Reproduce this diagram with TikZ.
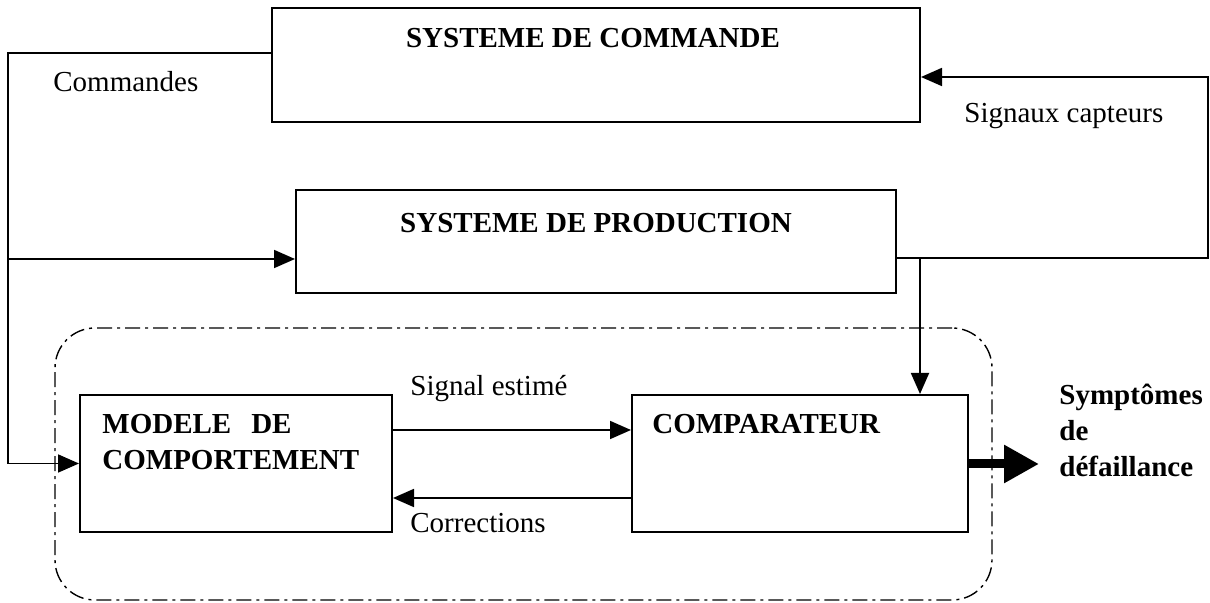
\documentclass[tikz,border=0pt]{standalone}
\usepackage{fontspec}
\setmainfont{Liberation Serif}
\usetikzlibrary{arrows.meta}
\begin{document}
\begin{tikzpicture}[x=0.5pt,y=-0.5pt,
  font=\fontsize{14.5pt}{18pt}\selectfont,
  box/.style={draw,line width=1pt,rectangle,inner sep=0pt},
  frame/.style={draw,line width=0.7pt,rectangle,rounded corners=20pt,
    dash pattern=on 7.5pt off 2.5pt on 1.5pt off 2.5pt},
  conn/.style={line width=0.9pt,-{Triangle[length=10.5pt,width=9pt]}},
  bigarrow/.style={line width=4.5pt,-{Triangle[length=17.5pt,width=18pt]}},
  txt/.style={inner sep=0pt,anchor=base west},
  ttl/.style={inner sep=0pt,anchor=base,font=\fontsize{14.5pt}{18pt}\selectfont\bfseries},
  btxt/.style={inner sep=0pt,anchor=base west,font=\fontsize{14.5pt}{18pt}\selectfont\bfseries}]
\useasboundingbox (0,0) rectangle (1210,603);
% frame
\node[frame,minimum width=468.5pt,minimum height=136pt] (grp) at (523.5,464) {};
% boxes
\node[box,minimum width=324pt,minimum height=57pt] (cmd) at (596,65) {};
\node[box,minimum width=300pt,minimum height=51.5pt] (prod) at (596,241.5) {};
\node[box,minimum width=156pt,minimum height=68.5pt] (mod) at (236,463.5) {};
\node[box,minimum width=168pt,minimum height=68.5pt] (comp) at (800,463.5) {};
% box texts
\node[ttl] (cmdT) at (593,48) {SYSTEME DE COMMANDE};
\node[ttl] (prodT) at (596,233) {SYSTEME DE PRODUCTION};
\node[btxt] (modT1) at (102,434) {MODELE\hspace{10pt}DE};
\node[btxt] (modT2) at (102,470) {COMPORTEMENT};
\node[btxt] (compT) at (652,434) {COMPARATEUR};
% connector labels
\node[txt] (lCmd) at (53,92) {Commandes};
\node[txt] (lCap) at (964,123) {Signaux capteurs};
\node[txt] (lEst) at (410,396) {Signal estimé};
\node[txt] (lCor) at (410,533) {Corrections};
\node[btxt] (lS1) at (1059,405) {Symptômes};
\node[btxt] (lS2) at (1059,441) {de};
\node[btxt] (lS3) at (1059,477) {défaillance};
% coordinates
\coordinate (cL) at (8,53);
\coordinate (cB) at (8,259);
\coordinate (cR) at (1208,258);
\coordinate (cRt) at (1208,77);
\coordinate (cJ) at (920,258);
\coordinate (cE) at (0,430);
\coordinate (cC) at (0,498);
\coordinate (cS) at (1039,464);
% connectors
\draw[conn] (cmd.west |- cL) -- (cL) -- (cL |- mod.west) -- (mod.west);
\draw[conn] (cB) -- (prod.west |- cB);
\draw[conn] (prod.east |- cR) -- (cR) -- (cRt) -- (cmd.east |- cRt);
\draw[conn] (cJ) -- (cJ |- comp.north);
\draw[conn] (mod.east |- cE) -- (comp.west |- cE);
\draw[conn] (comp.west |- cC) -- (mod.east |- cC);
\draw[bigarrow] (comp.east |- cS) -- (cS);
\end{tikzpicture}
\end{document}
